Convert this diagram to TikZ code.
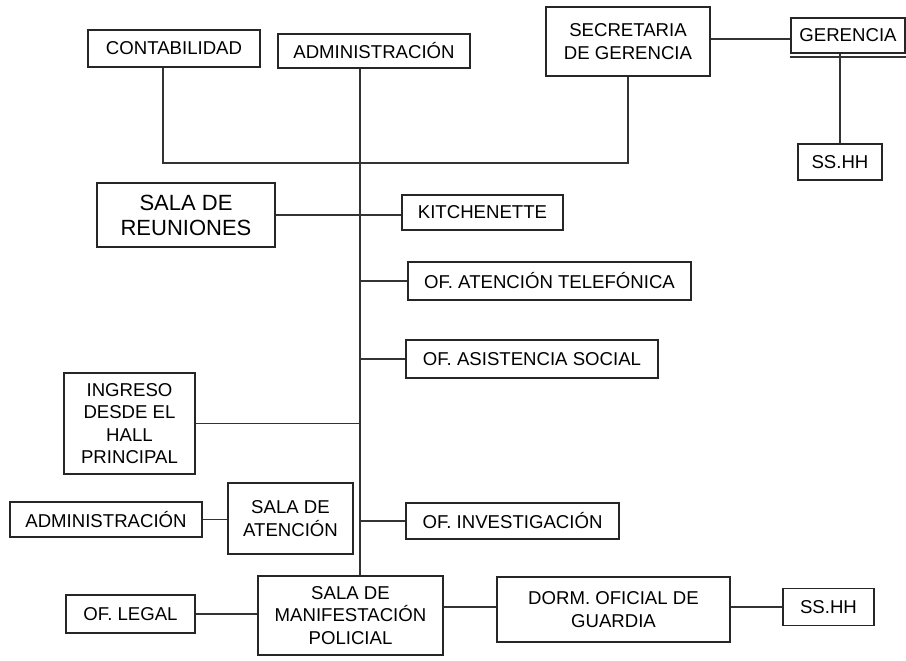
\documentclass[tikz,border=0pt]{standalone}
\usepackage{fontspec}
\setmainfont{Liberation Sans}

\begin{document}
\begin{tikzpicture}[
  x=1pt,y=-1pt,
  room/.style={rectangle,draw=black!85,line width=1.7pt,inner sep=0pt,align=center,font=\fontsize{18.6}{22.5}\selectfont},
  bigroom/.style={room,font=\fontsize{22}{25}\selectfont},
  link/.style={draw=black!80,line width=1.7pt}
]
  \useasboundingbox (0,0) rectangle (906,661);

  % top row
  \node[room,minimum width=172pt,minimum height=37pt] (conta) at (174,48.5) {CONTABILIDAD};
  \node[room,minimum width=192pt,minimum height=34pt] (admtop) at (374,51) {ADMINISTRACIÓN};
  \node[room,minimum width=164pt,minimum height=69pt] (secret) at (628,41.5) {SECRETARIA\\DE GERENCIA};
  \node[room,minimum width=114pt,minimum height=35pt] (geren) at (848,35.5) {GERENCIA};
  \node[room,minimum width=84pt,minimum height=36pt] (sshhtop) at (840,162) {SS.HH};

  % rooms along the corridor
  \node[bigroom,minimum width=178pt,minimum height=64pt] (reun) at (186,215) {SALA DE\\REUNIONES};
  \node[room,minimum width=161pt,minimum height=35pt] (kitch) at (482.5,212.5) {KITCHENETTE};
  \node[room,minimum width=283pt,minimum height=38pt] (tel) at (549.5,281) {OF. ATENCIÓN TELEFÓNICA};
  \node[room,minimum width=252pt,minimum height=38pt] (asis) at (532,359) {OF. ASISTENCIA SOCIAL};
  \node[room,minimum width=131pt,minimum height=101pt] (ingr) at (129.5,423.5) {INGRESO\\DESDE EL\\HALL\\PRINCIPAL};
  \node[room,minimum width=125pt,minimum height=71pt] (aten) at (290.5,518.5) {SALA DE\\ATENCIÓN};
  \node[room,minimum width=192pt,minimum height=35pt] (admlow) at (106,519.5) {ADMINISTRACIÓN};
  \node[room,minimum width=213pt,minimum height=36pt] (invest) at (512.5,521) {OF. INVESTIGACIÓN};

  % bottom row
  \node[room,minimum width=185pt,minimum height=79pt] (manif) at (350.5,615.5) {SALA DE\\MANIFESTACIÓN\\POLICIAL};
  \node[room,minimum width=129pt,minimum height=38pt] (legal) at (130.5,614) {OF. LEGAL};
  \node[room,minimum width=233pt,minimum height=65pt] (dorm) at (613.5,609.5) {DORM. OFICIAL DE\\GUARDIA};
  \node[room,minimum width=91pt,minimum height=37pt] (sshhlow) at (828.5,607) {SS.HH};

  \coordinate (spine) at (360,163);

  % connectors
  \draw[link] ([yshift=-3.5pt]geren.south west) -- ([yshift=-3.5pt]geren.south east);
  \draw[link] ([yshift=-3.5pt]secret.east |- geren.west) -- ([yshift=-3.5pt]geren.west);
  \draw[link] (sshhtop.north) -- (sshhtop.north |- geren.south);
  \draw[link] ([xshift=-11pt]conta.south) |- (spine) -| (secret.south);
  \draw[link] (spine |- admtop.south) -- (spine |- manif.north);
  \draw[link] (reun.east) -- (reun.east -| kitch.west);
  \draw[link] (spine |- tel.west) -- (tel.west);
  \draw[link] (spine |- asis.west) -- (asis.west);
  \draw[link] (ingr.east) -- (spine |- ingr.east);
  \draw[link] (admlow.east) -- (admlow.east -| aten.west);
  \draw[link] (spine |- invest.west) -- (invest.west);
  \draw[link] (legal.east) -- (legal.east -| manif.west);
  \draw[link] (manif.east |- sshhlow.west) -- (dorm.west |- sshhlow.west);
  \draw[link] (dorm.east |- sshhlow.west) -- (sshhlow.west);
\end{tikzpicture}
\end{document}
